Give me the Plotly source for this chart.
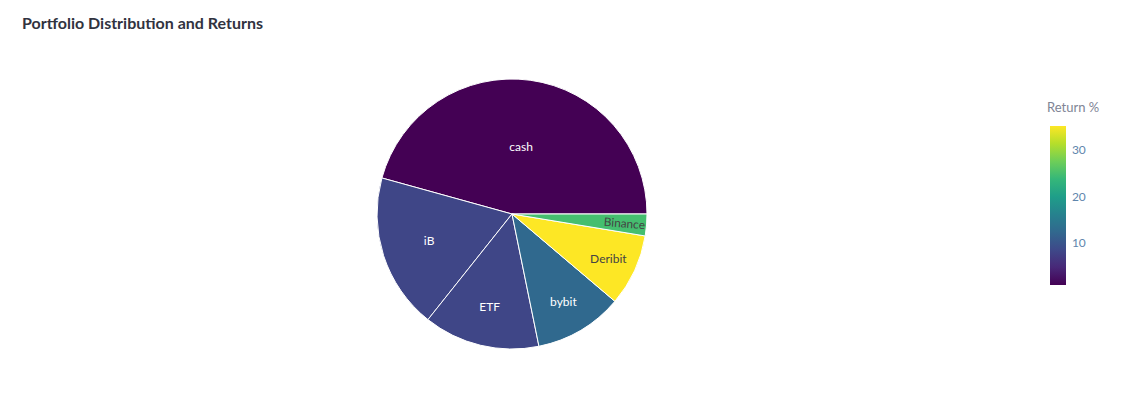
import plotly.graph_objects as go

accounts = ['cash', 'iB', 'ETF', 'bybit', 'Deribit', 'Binance']
weights = [45.7, 18.6, 13.9, 10.6, 8.6, 2.6]
returns = [1.0, 8.2, 8.2, 12.6, 35.2, 24.9]
text_colors = ['#ffffff', '#ffffff', '#ffffff', '#ffffff', '#444444', '#444444']
text_sizes = [12, 12, 12, 12, 12, 12.4]

# page body adds 8px around the figure
W, H = 1132, 387

fig = go.Figure(go.Sunburst(
    labels=accounts,
    parents=[''] * len(accounts),
    values=weights,
    branchvalues='total',
    sort=False,
    rotation=0,
    marker=dict(colors=returns, colorscale='Viridis', cmin=1.0, cmax=35.2,
                line=dict(color='white', width=1),
                showscale=True,
                colorbar=dict(x=1042 / 1008, xanchor='left', xpad=0,
                              y=64 / 270, yanchor='bottom', ypad=0,
                              lenmode='pixels', len=159, thickness=16, outlinewidth=0,
                              tickvals=[10, 20, 30], ticks='outside', ticklen=4,
                              tickcolor='rgba(0,0,0,0)',
                              tickfont=dict(size=12, color='#5f86ad'))),
    insidetextfont=dict(size=text_sizes, color=text_colors),
    insidetextorientation='auto',
    hoverinfo='label+value',
))

fig.update_layout(
    width=W, height=H,
    font=dict(family='Lato, sans-serif'),
    title=dict(text='<b>Portfolio Distribution and Returns</b>', x=14 / W, xanchor='left',
               y=1 - 15 / H, yanchor='middle',
               font=dict(size=16, color='#31333F')),
    margin=dict(l=0, r=124, t=71, b=46, autoexpand=False),
    paper_bgcolor='white',
    annotations=[dict(text='Return %', xref='paper', yref='paper', x=1037 / 1008, y=0.896,
                      xanchor='left', yanchor='middle', showarrow=False,
                      font=dict(size=13, color='#808495'))],
)

fig.write_html("out.html")
